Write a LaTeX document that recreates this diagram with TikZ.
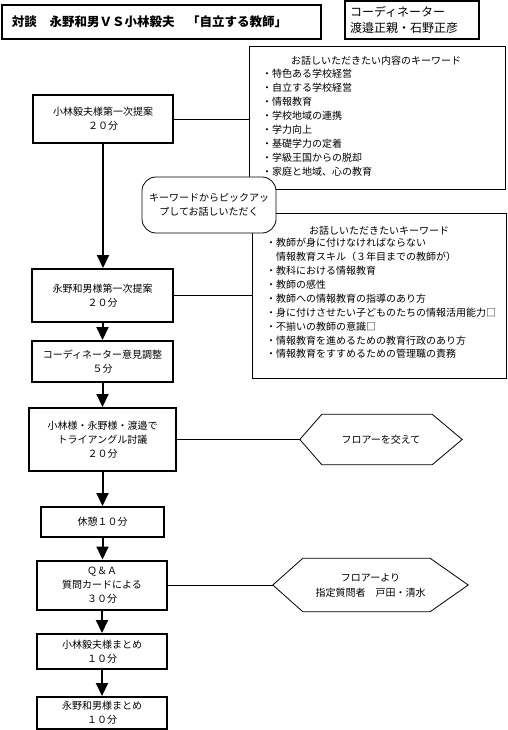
\documentclass[tikz,border=0pt]{standalone}
\usepackage{fontspec}
\setmainfont{Noto Sans CJK JP}
\usetikzlibrary{arrows.meta}

\begin{document}
\begin{tikzpicture}[x=1pt,y=-1pt,
    stage/.style={draw,line width=2pt,align=center,inner sep=0pt,
      font=\fontsize{10}{14}\selectfont},
    kwbox/.style={draw,line width=0.8pt,inner sep=0pt},
    kwitem/.style={anchor=west,inner sep=0pt,text height=8pt,text depth=2pt,
      font=\fontsize{10}{14}\selectfont},
    flow/.style={line width=2pt,-{Triangle[width=12pt,length=13pt]}},
    link/.style={line width=0.8pt}]
  \useasboundingbox (0,0) rectangle (507,730);
  % --- heading and coordinator
  \node[draw,line width=1.2pt,minimum width=319pt,minimum height=34pt,
    text width=299pt,align=left,inner sep=0pt,
    font=\fontsize{12.5}{15}\selectfont\bfseries] (title) at (161.5,22)
    {対談　永野和男ＶＳ小林毅夫　「自立する教師」};
  \node[draw,line width=1.2pt,minimum width=134pt,minimum height=38pt,
    text width=124pt,align=left,inner sep=0pt,
    font=\fontsize{12}{16}\selectfont] (coord) at (412,20)
    {コーディネーター\\渡邉正親・石野正彦};
  % --- keyword boxes
  \node[kwbox,minimum width=256pt,minimum height=143pt] (kw1) at (377,117.5) {};
  \node[kwitem,anchor=center] (kw1head) at (376,61.7) {お話しいただきたい内容のキーワード};
  \foreach \t [count=\i from 0] in {・特色ある学校経営,・自立する学校経営,・情報教育,
      ・学校地域の連携,・学力向上,・基礎学力の定着,・学級王国からの脱却,・家庭と地域、心の教育}
    {\node[kwitem] (kw1item\i) at (262,74.3+14.06*\i) {\t};}
  \node[kwbox,minimum width=254pt,minimum height=165pt] (kw2) at (379,295.5) {};
  \node[kwitem,anchor=center] (kw2head) at (379,231.7) {お話しいただきたいキーワード};
  \foreach \t [count=\i from 0] in {・教師が身に付けなければならない,
      　情報教育スキル（３年目までの教師が）,・教科における情報教育,・教師の感性,
      ・教師への情報教育の指導のあり方,・身に付けさせたい子どものたちの情報活用能力□,
      ・不揃いの教師の意識□,・情報教育を進めるための教育行政のあり方,
      ・情報教育をすすめるための管理職の責務}
    {\node[kwitem] (kw2item\i) at (266,243.3+13.96*\i) {\t};}
  % callout over both boxes
  \node[draw,line width=0.8pt,fill=white,rounded corners=14pt,minimum width=134pt,
    minimum height=56pt,align=center,inner sep=0pt,
    font=\fontsize{10}{13.5}\selectfont] (pick) at (209,205)
    {キーワードからピックアッ\\プしてお話しいただく};
  % --- programme
  \node[stage,minimum width=140pt,minimum height=48pt] (kob1) at (103,119) {小林毅夫様第一次提案\\２０分};
  \node[stage,minimum width=141pt,minimum height=53pt] (nag1) at (102.5,295.5) {永野和男様第一次提案\\２０分};
  \node[stage,minimum width=141pt,minimum height=41pt] (adj) at (102.5,361.5) {コーディネーター意見調整\\５分};
  \node[stage,minimum width=147pt,minimum height=63pt] (tri) at (102.5,439.5) {小林様・永野様・渡邉で\\トライアングル討議\\２０分};
  \node[stage,minimum width=123pt,minimum height=30pt] (rest) at (102.5,522) {休憩１０分};
  \node[stage,minimum width=130pt,minimum height=49pt] (qa) at (102,585) {Ｑ＆Ａ\\質問カードによる\\３０分};
  \node[stage,minimum width=130pt,minimum height=35pt] (kob2) at (102,651.5) {小林毅夫様まとめ\\１０分};
  \node[stage,minimum width=130pt,minimum height=32pt] (nag2) at (102,713) {永野和男様まとめ\\１０分};
  \foreach \a/\b in {kob1/nag1,nag1/adj,adj/tri,tri/rest,rest/qa,qa/kob2,kob2/nag2}
    {\draw[flow] (\a.south) -- (\a.south |- \b.north);}
  % --- floor hexagons
  \node[minimum width=162pt,minimum height=50pt,inner sep=0pt,
    font=\fontsize{10}{14}\selectfont] (hex1) at (381,439.5) {フロアーを交えて};
  \draw[link] (hex1.west) -- ([xshift=22pt]hex1.north west) -- ([xshift=-30pt]hex1.north east)
    -- (hex1.east) -- ([xshift=-30pt]hex1.south east) -- ([xshift=22pt]hex1.south west) -- cycle;
  \node[minimum width=195pt,minimum height=53pt,inner sep=0pt,align=center,
    font=\fontsize{10}{15}\selectfont] (hex2) at (370.5,585) {フロアーより\\指定質問者　戸田・清水};
  \draw[link] (hex2.west) -- ([xshift=30pt]hex2.north west) -- ([xshift=-38pt]hex2.north east)
    -- (hex2.east) -- ([xshift=-38pt]hex2.south east) -- ([xshift=30pt]hex2.south west) -- cycle;
  % --- side links
  \draw[link] (kob1.east) -- (kob1.east -| kw1.west);
  \draw[link] (nag1.east) -- (nag1.east -| kw2.west);
  \draw[link] (tri.east) -- (hex1.west);
  \draw[link] (qa.east) -- (hex2.west);
\end{tikzpicture}
\end{document}
